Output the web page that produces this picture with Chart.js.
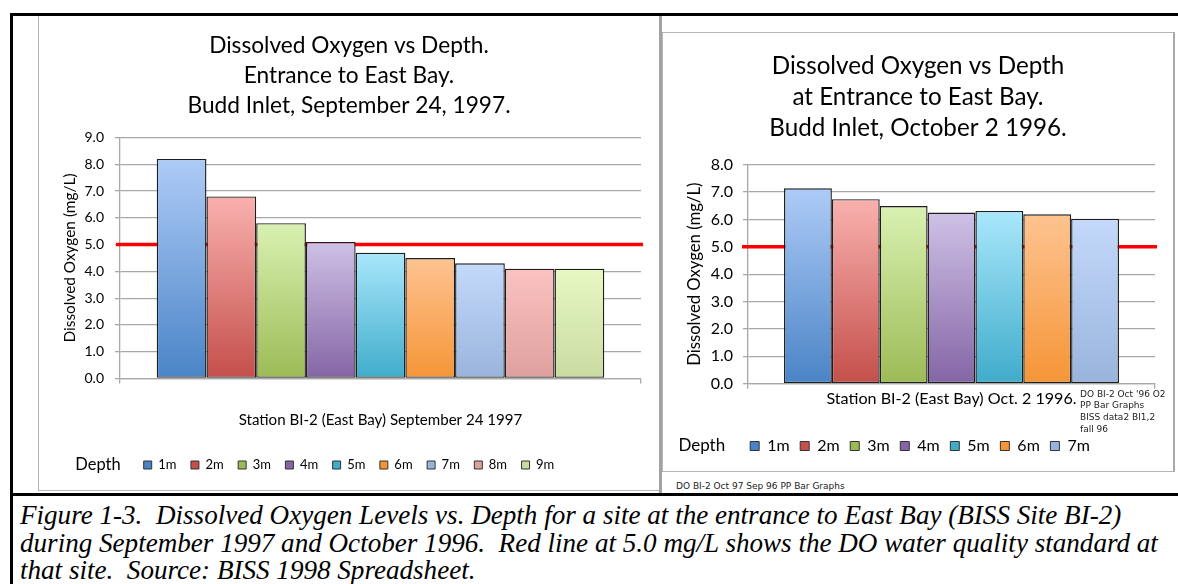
<!DOCTYPE html>
<html>
<head>
<meta charset="utf-8">
<script src="https://cdn.jsdelivr.net/npm/chart.js@4.4.0/dist/chart.umd.min.js"></script>
<style>
  body { margin: 0; background: #fff; }
  #page { position: relative; width: 1178px; height: 584px; overflow: hidden; font-family: Lato, sans-serif; }
  .abs { position: absolute; }
  .blk { position: absolute; background: #000; }
  .note { position: absolute; font-family: "DejaVu Sans", sans-serif; font-size: 9px; line-height: 11.7px; color: #222; white-space: pre; }
  #caption { position: absolute; left: 20px; top: 502px; font-family: "Liberation Serif", serif; font-style: italic;
             font-size: 27.1px; line-height: 27.5px; white-space: pre; color: #000; }
</style>
</head>
<body>
<div id="page">
  <!-- frames -->
  <div class="abs" style="left:38px;top:15px;width:620px;height:474px;border:1px solid #b4b4b4;"></div>
  <div class="abs" style="left:659px;top:15px;width:3px;height:480px;background:#a2a2a2;"></div>
  <div class="abs" style="left:662px;top:32px;width:510px;height:438px;border:1px solid #b4b4b4;border-right:2px solid #a8a8a8;"></div>
  <div class="blk" style="left:10px;top:13px;width:1168px;height:3px;"></div>
  <div class="blk" style="left:10px;top:13px;width:3px;height:571px;"></div>
  <div class="blk" style="left:10px;top:493px;width:1168px;height:3px;"></div>

  <canvas id="sepChart" class="abs" width="622" height="476" style="left:38px;top:15px;"></canvas>
  <canvas id="octChart" class="abs" width="512" height="440" style="left:662px;top:32px;"></canvas>

  <div class="note" style="left:1080px;top:388.5px;width:94px;overflow:hidden;">DO BI-2 Oct '96 O2
PP Bar Graphs
BISS data2 BI1,2
fall 96</div>
  <div class="note" style="left:676px;top:481px;">DO BI-2 Oct 97 Sep 96 PP Bar Graphs</div>

  <div id="caption">Figure 1-3.  Dissolved Oxygen Levels vs. Depth for a site at the entrance to East Bay (BISS Site BI-2)
during September 1997 and October 1996.  Red line at 5.0 mg/L shows the DO water quality standard at
that site.  Source: BISS 1998 Spreadsheet.</div>
</div>

<script>
// data
const depthLabels = ['1m', '2m', '3m', '4m', '5m', '6m', '7m', '8m', '9m'];
const sep97Values = [8.2, 6.8, 5.8, 5.1, 4.7, 4.5, 4.3, 4.1, 4.1];
const oct96Values = [7.14, 6.74, 6.49, 6.25, 6.31, 6.19, 6.03];
const doStandard = 5.0;
const sep97Station = ['Station BI-2 (East Bay) September 24 1997'];
const oct96Station = ['Station BI-2 (East Bay) Oct. 2 1996.'];
const sep97Title = ['Dissolved Oxygen vs Depth.', 'Entrance to East Bay.', 'Budd Inlet, September 24, 1997.'];
const oct96Title = ['Dissolved Oxygen vs Depth', 'at Entrance to East Bay.', 'Budd Inlet, October 2 1996.'];
const yTitle = 'Dissolved Oxygen (mg/L)';

// excel-ish gradient colours, light top / dark bottom
const topColors = ['#aecbf7', '#f9b1ae', '#d9f1b1', '#cfc1e6', '#a9e7fb', '#fec391', '#c4d9fb', '#fbc2c1', '#e7f8c4'];
const botColors = ['#4a84c6', '#c44f4b', '#9cbb56', '#8465a5', '#3facca', '#f59536', '#99b4dc', '#dea09d', '#c9dba1'];

const GRID = '#a8a8a8';

Chart.defaults.font.family = 'Lato, sans-serif';
Chart.defaults.color = '#000';

function barGradient(i) {
  return c => {
    const { chart, parsed } = c;
    const y = chart.scales.y;
    if (!chart.chartArea || !parsed || !y) return botColors[i];
    const g = chart.ctx.createLinearGradient(0, y.getPixelForValue(parsed.y), 0, y.getPixelForValue(0));
    g.addColorStop(0, topColors[i]);
    g.addColorStop(1, botColors[i]);
    return g;
  };
}

const standardLine = {
  id: 'standardLine',
  beforeDatasetsDraw(chart, args, opts) {
    const { ctx, chartArea, scales: { y } } = chart;
    const py = y.getPixelForValue(opts.value);
    ctx.save();
    ctx.strokeStyle = '#ff0000';
    ctx.lineWidth = 3.5;
    ctx.beginPath();
    ctx.moveTo(chartArea.left - opts.extend, py);
    ctx.lineTo(chartArea.right + 2, py);
    ctx.stroke();
    ctx.restore();
  }
};

// nudge legend sideways, then write "Depth" in front of it
const depthWord = {
  id: 'depthWord',
  afterLayout(chart, args, opts) {
    const lg = chart.legend;
    if (lg && opts.shift) { lg.left += opts.shift; lg.right += opts.shift; }
  },
  afterDraw(chart, args, opts) {
    const boxes = chart.legend && chart.legend.legendHitBoxes;
    if (!boxes || !boxes.length) return;
    const b = boxes[0];
    const ctx = chart.ctx;
    ctx.save();
    ctx.font = opts.size + 'px Lato, sans-serif';
    ctx.fillStyle = '#000';
    ctx.textAlign = 'right';
    ctx.textBaseline = 'middle';
    ctx.fillText('Depth', b.left - opts.gap, b.top + b.height / 2);
    ctx.restore();
  }
};

function makeChart(id, o) {
  const datasets = o.values.map((v, i) => ({
    label: depthLabels[i],
    data: [v],
    backgroundColor: barGradient(i),
    borderColor: '#1e1e1e',
    borderWidth: 1.4,
    borderSkipped: false,
    categoryPercentage: o.catPct,
    barPercentage: 1,
  }));
  return new Chart(document.getElementById(id), {
    type: 'bar',
    data: { labels: o.station, datasets },
    plugins: [standardLine, depthWord],
    options: {
      responsive: false,
      animation: false,
      layout: { padding: { top: 0, left: 0, right: 0, bottom: o.padBottom } },
      plugins: {
        tooltip: { enabled: false },
        title: {
          display: true, text: o.title, color: '#000',
          font: { size: o.titleSize, weight: 'normal', lineHeight: o.titleLine + 'px' },
          padding: { top: o.titlePadTop, bottom: o.titlePadBottom },
        },
        legend: {
          position: 'bottom',
          labels: {
            font: { size: o.legendSize }, boxWidth: o.box, boxHeight: o.box, padding: o.legendPad, color: '#000',
            generateLabels: chart => chart.data.datasets.map((ds, i) => ({
              text: ds.label, fillStyle: botColors[i], strokeStyle: '#333', lineWidth: 1, hidden: false, datasetIndex: i,
            })),
          },
        },
        standardLine: { value: doStandard, extend: o.lineExtend },
        depthWord: { size: o.depthSize, gap: o.depthGap, shift: o.legendShift },
      },
      scales: {
        x: {
          grid: { drawOnChartArea: false, tickLength: 5, color: GRID, lineWidth: 1.3 },
          border: { color: GRID, width: 1.3 },
          ticks: { font: { size: o.xSize }, padding: o.xPad, color: '#000' },
          afterFit: s => { s.height = o.xHeight; },
        },
        y: {
          min: 0, max: o.yMax,
          ticks: { stepSize: 1, font: { size: o.ySize }, padding: o.yPad, color: '#000', callback: v => v.toFixed(1) },
          grid: { color: GRID, lineWidth: 1.3, tickLength: 5 },
          border: { color: GRID, width: 1.3 },
          title: { display: true, text: yTitle, font: { size: o.yTitleSize }, padding: { top: o.yTitlePad, bottom: 0 }, color: '#000' },
          afterFit: s => { s.width = o.yWidth; },
        },
        // empty right-hand spacer so title/legend stay centred on the whole box
        spacer: {
          position: 'right', min: 0, max: 1,
          grid: { display: false }, border: { display: false }, ticks: { display: false },
          afterFit: s => { s.width = o.padRight; },
        },
      },
    },
  });
}

makeChart('sepChart', {
  values: sep97Values, station: sep97Station, title: sep97Title, yMax: 9, catPct: 0.859,
  padRight: 19, padBottom: 9.5,
  titleSize: 22.7, titleLine: 30, titlePadTop: 16, titlePadBottom: 16.5,
  legendSize: 13, box: 8, legendPad: 14.5, depthSize: 16.5, depthGap: 23, legendShift: 0,
  xSize: 15.1, xPad: 28, xHeight: 65.5,
  ySize: 14, yPad: 11, yTitleSize: 15.4, yTitlePad: 22.8, yWidth: 82,
  lineExtend: 4,
});

makeChart('octChart', {
  values: oct96Values, station: oct96Station, title: oct96Title, yMax: 8, catPct: 0.823,
  padRight: 19, padBottom: 8,
  titleSize: 24.2, titleLine: 31, titlePadTop: 18.5, titlePadBottom: 21.2,
  legendSize: 16, box: 9, legendPad: 10.6, depthSize: 17, depthGap: 25, legendShift: 2,
  xSize: 16.1, xPad: 0, xHeight: 43.7,
  ySize: 16, yPad: 10, yTitleSize: 16.7, yTitlePad: 23, yWidth: 86,
  lineExtend: 6,
});
</script>
</body>
</html>
